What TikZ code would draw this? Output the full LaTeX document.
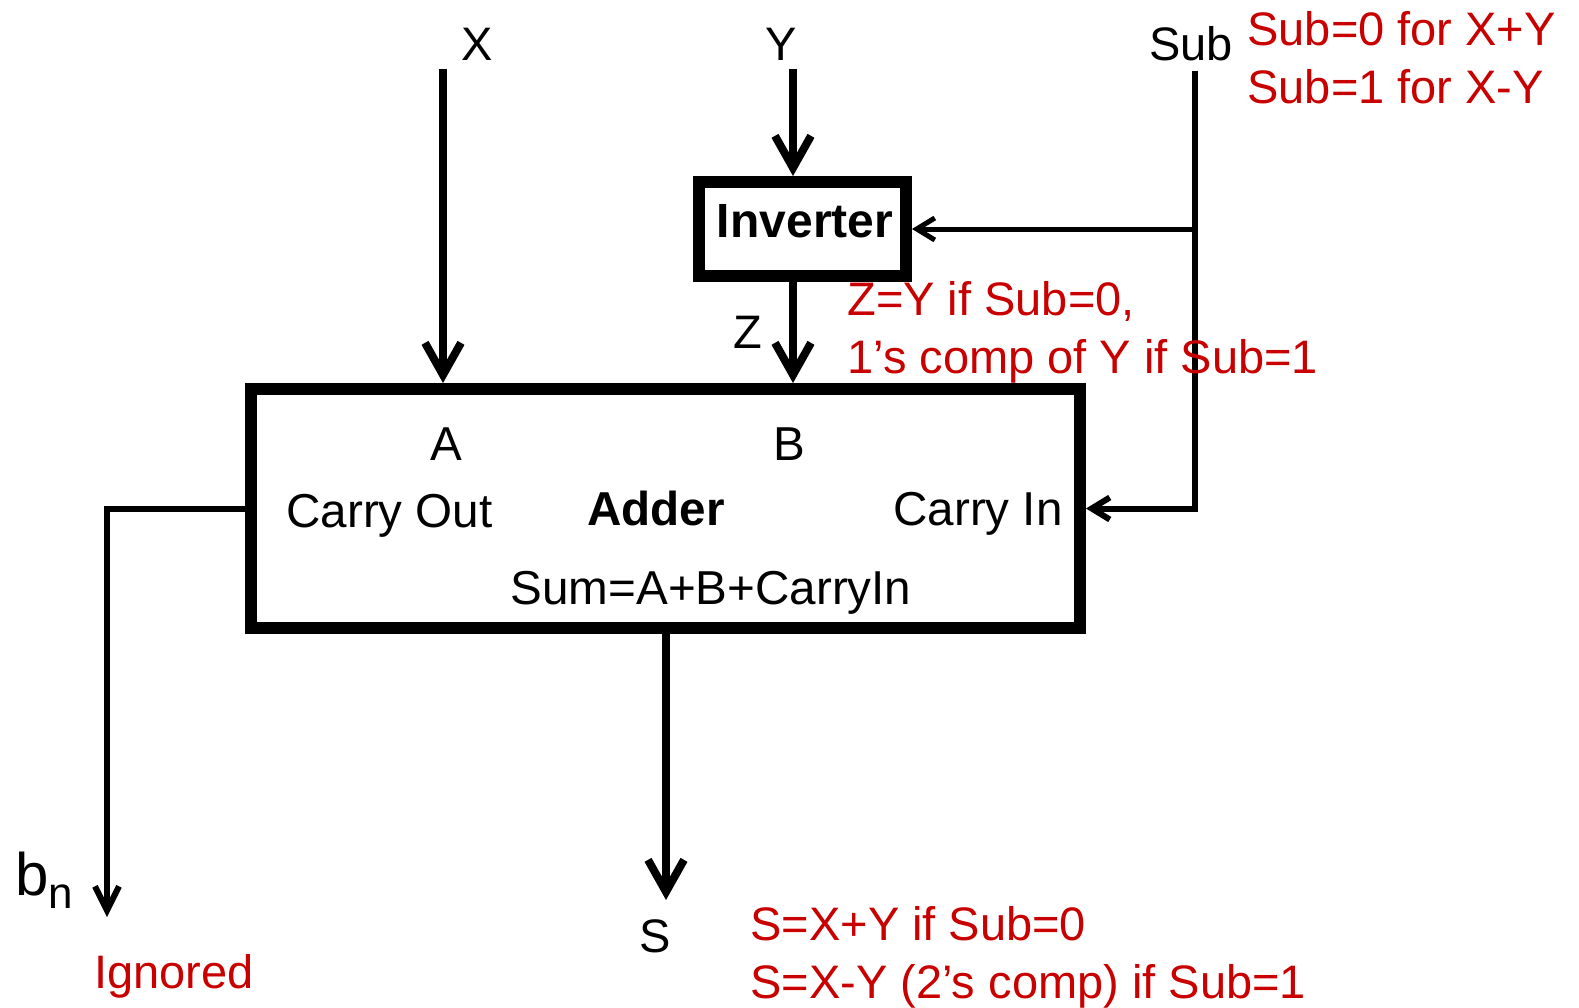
\documentclass[tikz,border=0pt]{standalone}
\usepackage{fontspec}
\setmainfont{Liberation Sans}
\usepackage{xcolor}
\usetikzlibrary{arrows.meta, positioning, calc}
\definecolor{notered}{RGB}{200,0,0}

\begin{document}
\begin{tikzpicture}[x=0.5pt, y=-0.5pt,
    every node/.style={inner sep=0pt, font=\fontsize{23.5}{29}\selectfont},
    unit/.style={draw, rectangle, line width=6pt},
    inlbl/.style={anchor=base, font=\fontsize{23.8}{29}\selectfont},
    note/.style={text=notered, align=left, anchor=north west},
    bus/.style={line width=4pt, -{Straight Barb[length=16pt, width=18pt]}},
    ctl/.style={line width=3pt, -{Straight Barb[length=9pt, width=11pt]}}]

    \useasboundingbox (0,0) rectangle (1579,1007);

    \node[unit, minimum width=414.5pt, minimum height=119.5pt] (adder) at (665.5,508.5) {};
    \node[unit, minimum width=103.5pt, minimum height=47pt] (inv) at (802.5,229) {};
    \node[anchor=base, font=\bfseries\fontsize{24}{29}\selectfont] (invlbl) at (805,237) {Inverter};

    \coordinate (xin) at (443,68.5);
    \coordinate (yin) at (793,68.5);
    \coordinate (subin) at (1195,70.5);
    \coordinate (bout) at (107,917);
    \coordinate (sout) at (666,900);

    \draw[bus] (xin) -- (xin |- adder.north);
    \draw[bus] (yin) -- (yin |- inv.north);
    \draw[bus] (yin |- inv.south) -- (yin |- adder.north);
    \draw[ctl] (subin) |- (adder.east);
    \draw[ctl, line width=2.5pt] (subin |- inv.east) -- (inv.east);
    \draw[line width=3pt, -{Straight Barb[length=12pt, width=12pt]}] (adder.west) -| (bout);
    \draw[bus] (sout |- adder.south) -- (sout);

    % port and signal names
    \node[anchor=base] (xlbl) at (477,60.5) {X};
    \node[anchor=base] (ylbl) at (781,60.5) {Y};
    \node[anchor=base] (sublbl) at (1191,60) {Sub};
    \node[anchor=base] (zlbl) at (748,348) {Z};
    \node[anchor=base] (slbl) at (655,952) {S};
    \node[anchor=base west] (bnlbl) at (15,895)
        {\fontsize{30}{30}\selectfont b\raisebox{-6.5pt}{\fontsize{22}{22}\selectfont n}};

    \node[inlbl] (albl) at (446,460) {A};
    \node[inlbl] (blbl) at (789,460) {B};
    \node[inlbl] (coutlbl) at (389.5,527) {Carry Out};
    \node[inlbl, font=\bfseries\fontsize{23.8}{29}\selectfont] (addlbl) at (656,525) {Adder};
    \node[inlbl] (cinlbl) at (978,525) {Carry In};
    \node[inlbl] (sumlbl) at (711,604) {Sum=A+B+CarryIn};

    % red remarks
    \node[note] (subnote) at (1247,11) {Sub=0 for X+Y\\Sub=1 for X-Y};
    \node[note] (znote) at (847,281) {Z=Y if Sub=0,\\1’s comp of Y if Sub=1};
    \node[note] (snote) at (750,906) {S=X+Y if Sub=0\\S=X-Y (2’s comp) if Sub=1};
    \node[anchor=base, text=notered] (ignlbl) at (174,988) {Ignored};
\end{tikzpicture}
\end{document}
